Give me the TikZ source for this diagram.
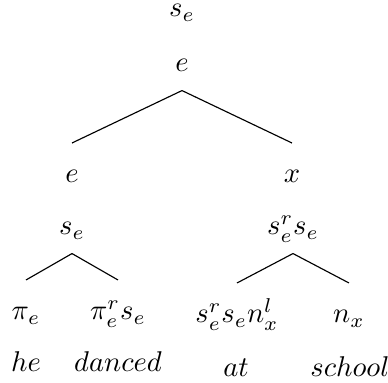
\documentclass[tikz,border=0pt]{standalone}

\begin{document}
\begin{tikzpicture}[x=0.35pt, y=-0.35pt,
  lbl/.style={inner sep=0pt, anchor=base},
  mother/.style={lbl, text depth=6.3pt},
  daughter/.style={lbl, text height=13.8pt},
  branch/.style={line width=0.4pt}]

\useasboundingbox (0,0) rectangle (388,383);

% Root
\node[lbl] (top) at (182,17) {$s_e$};
\node[mother] (root) at (182,72) {$e$};

% Second level
\node[daughter] (subj) at (72,183) {$e$};
\node[daughter] (pp) at (292,183) {$x$};
\draw[branch] (root.south) -- (subj.north);
\draw[branch] (root.south) -- (pp.north);

% Third level
\node[mother] (vp) at (72,235) {$s_e$};
\node[mother] (adv) at (293,235) {$s_e^r s_e$};

% Types
\node[daughter] (he) at (26,320) {$\pi_e$};
\node[daughter] (danced) at (118,320) {$\pi_e^r s_e$};
\node[daughter] (at) at (237,323) {$s_e^r s_e n_x^l$};
\node[daughter] (school) at (349,323) {$n_x$};
\draw[branch] (vp.south) -- (he.north);
\draw[branch] (vp.south) -- (danced.north);
\draw[branch] (adv.south) -- (at.north);
\draw[branch] (adv.south) -- (school.north);

% Words
\node[lbl] (w1) at (26,372) {$he$};
\node[lbl] (w2) at (118,372) {$danced$};
\node[lbl] (w3) at (236,377) {$at$};
\node[lbl] (w4) at (350,377) {$school$};

\end{tikzpicture}
\end{document}
